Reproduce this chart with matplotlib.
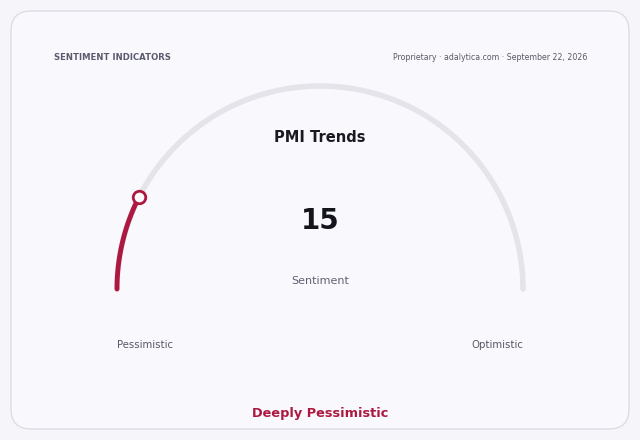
import numpy as np
import matplotlib.pyplot as plt
from matplotlib.patches import FancyBboxPatch

# gauge data
title = "PMI Trends"
value = 15
vmin, vmax = 0, 100
metric = "Sentiment"
low_label, high_label = "Pessimistic", "Optimistic"
verdict = "Deeply Pessimistic"
header_left = "SENTIMENT INDICATORS"
header_right = "Proprietary \u00b7 adalytica.com \u00b7 September 22, 2026"

accent = "#ad1840"
track = "#e4e4ea"

fig = plt.figure(figsize=(6.4, 4.4), dpi=100, facecolor="#f6f6fa")
ax = fig.add_axes([0, 0, 1, 1])
ax.set_xlim(0, 640)
ax.set_ylim(440, 0)
ax.axis("off")

card = FancyBboxPatch((11, 11), 618, 418, boxstyle="round,pad=0,rounding_size=20",
                      facecolor="#f9f9fd", edgecolor="#dcdce6", linewidth=1)
ax.add_patch(card)

cx, cy, r = 320, 289, 203

# background track
t = np.linspace(np.pi, 0, 200)
ax.plot(cx + r * np.cos(t), cy - r * np.sin(t), color=track, lw=4,
        solid_capstyle="round", zorder=2)

# value arc
frac = (value - vmin) / (vmax - vmin)
end = np.pi * (1 - frac)
t = np.linspace(np.pi, end, 100)
ax.plot(cx + r * np.cos(t), cy - r * np.sin(t), color=accent, lw=3.5,
        solid_capstyle="round", zorder=3)
ax.plot(cx + r * np.cos(end), cy - r * np.sin(end), "o", ms=9, mfc="white",
        mec=accent, mew=2, zorder=4)

ax.text(cx, 137, title, ha="center", va="center", fontsize=10.5, fontweight="bold",
        color="#1a1a22")
ax.text(cx, 221, str(value), ha="center", va="center", fontsize=20,
        fontweight="bold", color="#14141c")
ax.text(cx, 281, metric, ha="center", va="center", fontsize=8, color="#606070")
ax.text(145, 345, low_label, ha="center", va="center", fontsize=7.3, color="#555565")
ax.text(497, 345, high_label, ha="center", va="center", fontsize=7.3, color="#555565")
ax.text(cx, 414, verdict, ha="center", va="center", fontsize=9.3, fontweight="bold",
        color=accent)

ax.text(54, 57, header_left, ha="left", va="center", fontsize=6.1,
        fontweight="bold", color="#5a5a6e")
ax.text(587, 57, header_right, ha="right", va="center", fontsize=5.7,
        color="#5a5a66")

fig.savefig("out.png", dpi=100, facecolor=fig.get_facecolor())
